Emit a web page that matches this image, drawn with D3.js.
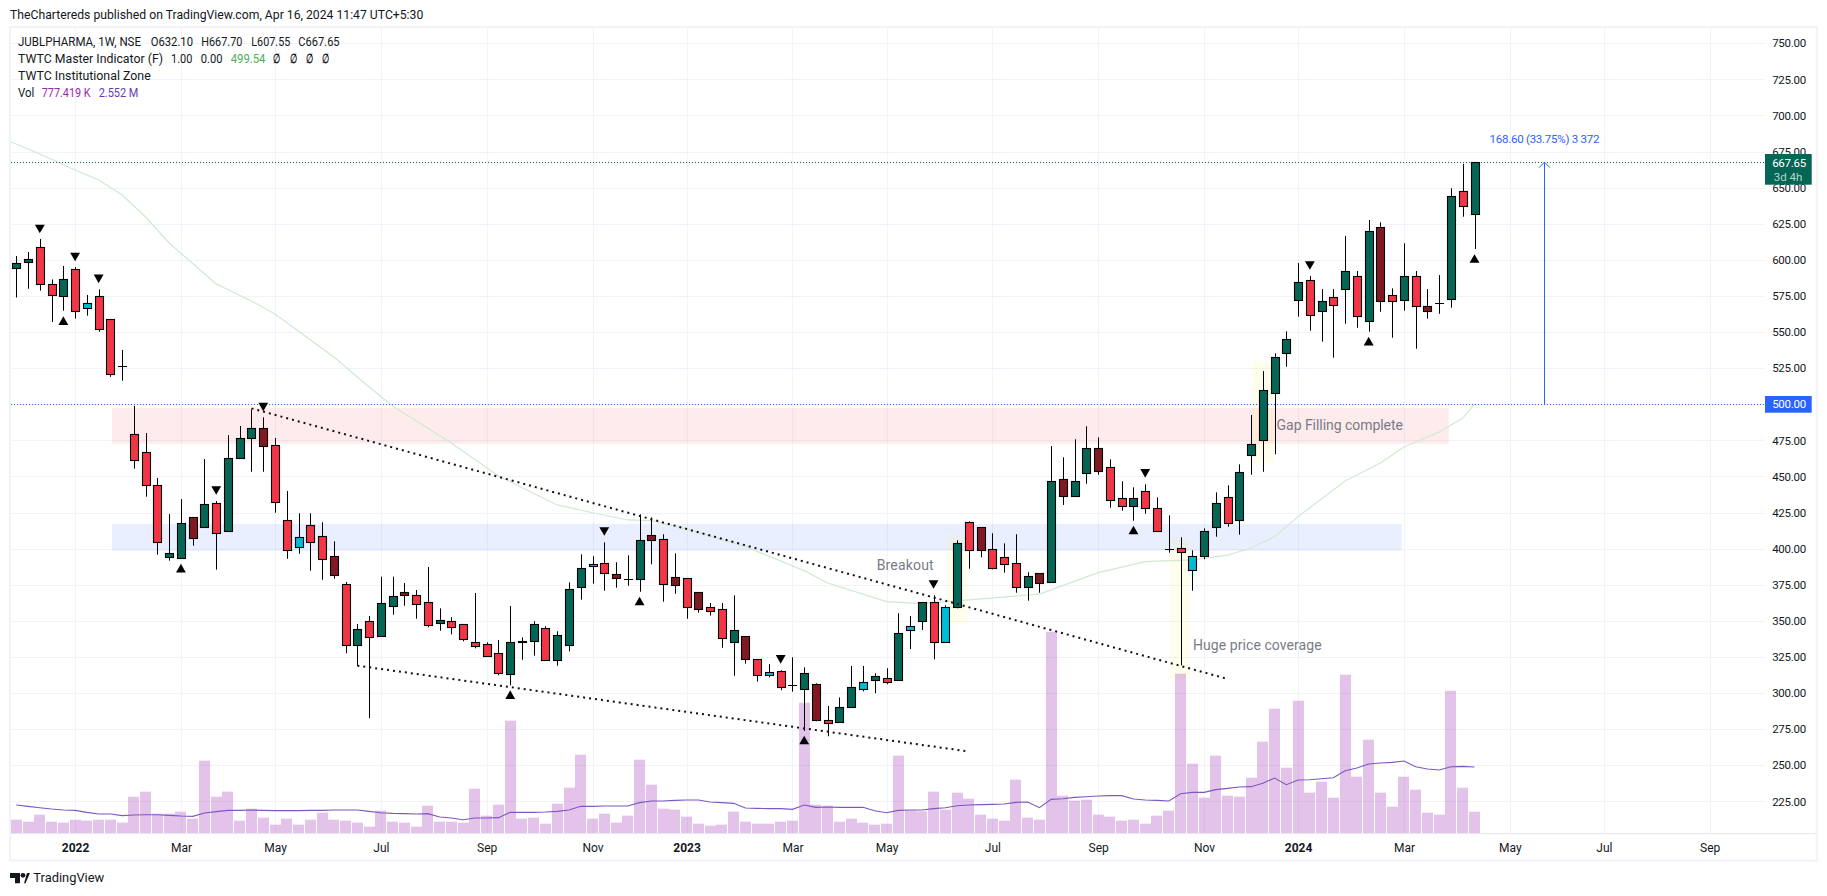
<!DOCTYPE html>
<html>
<head>
<meta charset="utf-8">
<script src="https://cdnjs.cloudflare.com/ajax/libs/d3/7.8.5/d3.min.js"></script>
<style>
body { margin: 0; background: #fff; }
text { font-family: Roboto, sans-serif; fill: #131722; }
</style>
</head>
<body>
<div id="chart"></div>
<script>
// weekly candles
var kinds = ["g","g","r","r","g","r","b","r","r","x","r","r","r","g","g","d","g","r","g","g","g","d","r","r","b","r","r","d","r","g","r","g","g","d","r","r","g","r","r","r","r","r","g","g","g","r","g","g","g","b","r","d","x","g","d","r","d","r","d","r","r","g","d","r","b","r","x","g","d","r","g","g","b","g","r","g","b","g","r","b","g","r","d","r","r","r","g","d","g","d","g","g","d","r","r","g","r","r","x","r","b","g","g","r","g","g","g","g","g","g","r","g","r","g","r","g","d","r","g","r","d","x","g","r","g"];
var opens = [594.5,598.8,608.7,583,574.8,593.5,566.5,575,558.9,526.3,479.2,466.8,443.9,394.5,393.8,421.7,415.2,431.4,412,462.6,476.5,483.4,471.6,419.7,401,416.2,408.6,394.7,375.4,333.1,349.7,339.4,360.1,369.8,367.7,362.9,348.6,349.7,347.6,335.2,333.8,327.6,313,335.2,335.9,344.9,322.7,333.1,373.3,387.8,389.9,382.3,378.8,378.8,409.3,406.5,380.2,379.5,369.8,359.4,358,335.2,339.3,323.4,312.3,315.1,305.4,302.7,306.1,281.2,279.8,290.2,302.6,308.8,310.2,308.8,343.5,349.7,362.9,335.2,359.4,418.3,414.8,399.6,394,389.9,373.3,383,376.8,448,436.3,452.2,469.5,456.4,434.9,429.4,439.7,428,400,400.3,385,394.7,414.8,435.6,419.7,464.7,475.1,507.6,535.3,572,585.9,564.4,574.1,579.6,588.6,557.5,622.6,575.5,572,588.6,567.9,569.9,572.7,647.5,632.1];
var highs = [602.7,605.5,614.5,586.5,595.8,595,575.7,579.6,558.9,537.6,499,480.1,449,424,434.4,421.7,462.1,433,478.7,485,496.5,491,476.7,440,424.5,424.5,418.3,405.1,376.9,347.9,353.4,380.6,380.6,376.2,371.4,387.3,358.7,352.5,347.6,369.3,335.2,336.8,360.3,338.6,349.7,346.3,342.8,376.7,396.1,394.8,404.4,390.6,395.4,423.8,421.7,410,396.8,379.5,369.8,362.4,362.4,367.7,339.3,323.4,320,315.8,324.8,317.9,306.8,291.1,297,318.8,318.8,313.7,317.2,355.3,353.4,362.9,367.7,360.8,405.8,419,414.8,410.7,403.7,410,383.7,383,471.1,463.3,475.8,484.8,477.1,461.9,446.7,442.5,444.6,435.6,423.1,407.9,398.9,414.1,439,443.9,458.4,492.6,523,535.3,550.5,597.8,588.9,579.8,579.8,616.6,592.3,627.6,626,580.3,611.5,592.3,579.8,589.5,649.6,666.5,667.7];
var lows = [574,580,578.7,557,564.8,559.3,561.4,550.3,519,516.3,455.4,436,395.9,391.7,393,402.1,415.2,385.5,412,462.6,453.3,453.3,424.9,393,396.5,384.8,378.5,379.2,327.6,319,282.6,339.4,354.3,360.5,351.5,345.6,343.2,340.7,335.9,331,325.5,312.3,305.4,323.1,325.9,322.7,319,328.9,364.7,375.8,370.9,373,374.4,370.2,389.2,363.3,368.8,351.5,355.7,353.7,331.4,312,320.4,308,310.9,302,301,273.8,280.5,270.1,279.8,290.2,301.2,299.9,306.1,308.8,330.5,343.7,323.4,335.2,358.7,386.1,394,385.7,383.4,369.5,364,369.5,376.8,430.3,436.3,445,451.2,428.4,426.3,419.4,424.2,412,397.2,319.2,370.9,392.7,408.3,415.2,409.7,451.2,453.3,465.4,526,560.7,551,543.4,532.3,555.8,553,550.3,564.1,546.1,564.8,538.5,559.3,562.7,566.9,629.9,607.55];
var closes = [598,600.4,583,575.5,586.5,564.4,570.4,552,520.8,526.3,461.2,443.9,404.4,396.8,417.6,407.2,430.8,410.7,462.6,476.5,483.4,471.3,432.1,398.9,407.9,404.4,392.7,381.6,333,344.2,338.6,362.2,367,367.7,361.5,347,350.7,345.6,337.3,332.4,325.5,313.7,335.2,335.9,347.6,322.7,340,371.9,386.4,389.2,383,379.5,378.8,405.8,405.8,375.3,374.7,359.4,358,356.7,337.9,343.5,323.4,312.3,314.4,304,305.4,313.7,281.2,279.1,290.2,304,307.5,311.6,307.5,341.4,346.3,362.9,335.2,359.4,403.7,398.9,398.9,386.4,389.2,373.3,380.9,376.1,446.7,436.3,446.7,469.5,453.6,433.5,429.4,434.9,428,412,400,397.5,394.7,412,431.4,417.6,452.9,472.3,509.7,532.5,545,584.5,561.6,571.3,568.6,592.1,560.9,619.8,571.3,571.3,588.6,567.9,564.4,569.9,644,637.1,667.65];

// volume in thousands
var volumes = [486,413,668,413,377,486,450,486,486,377,1324,1507,705,705,778,522,2637,1324,1507,450,887,559,304,522,304,486,741,486,450,377,231,814,413,377,231,996,413,413,377,1616,632,1033,4095,522,559,340,1069,1652,2855,522,705,377,632,2673,1762,887,851,595,340,267,304,778,413,340,340,413,450,4751,1033,996,413,522,377,304,340,2819,826,790,1507,851,1470,1251,668,522,450,1944,559,486,7339,1361,1179,1215,668,595,450,486,340,632,814,5808,2527,1288,2819,1361,1324,2017,3329,4532,2381,4824,1470,1871,1288,5771,2053,3402,1470,960,2053,1580,741,668,5188,1652,777];
var volumeMa = [1021,972,923,875,838,826,753,693,693,632,656,668,668,644,620,608,729,778,826,826,838,826,814,814,814,826,826,838,838,838,790,741,717,705,693,705,583,547,486,547,547,559,753,753,753,765,790,838,972,972,984,984,984,1106,1166,1166,1191,1203,1203,1130,1106,1081,911,899,887,887,863,1021,936,948,936,936,936,814,741,826,838,838,887,923,996,1021,1033,1045,1057,1118,1130,923,1227,1251,1300,1324,1349,1361,1361,1239,1203,1191,1166,1434,1482,1482,1580,1628,1677,1689,1810,2005,1762,1932,1944,1980,2017,2272,2369,2515,2552,2576,2624,2418,2333,2296,2418,2430,2406];

// long moving average, vertices of the line
var longMaBars = [-0.5,2,5,7,9,11,13,17,20,22,27,30,32,37,41,46,49,52,54,57,62,67,69,74,77,81,87,92,96,100,103,105,107,109,113,116,118,121,123,124];
var longMaValues = [681.9,673.3,662.3,655.3,644.9,629.7,611.7,583.3,571.5,562.5,532.8,512,498.8,473.2,450.4,430.3,424.9,419.9,419.4,413.6,401.4,384.8,376.2,363.3,361.9,364.5,368.6,383.4,391,392.2,395.6,400.5,408.3,422.2,446.9,459.4,470.4,480.8,490.5,500.2];

// pivots from the indicator
var downMarkBars = [2,5,7,17,21,50,65,78,96,110];
var downMarkPrices = [621.4,602,586.8,440.3,498.1,411.9,323.3,375.2,452.1,596.1];
var upMarkBars = [4,14,42,53,67,95,115,124];
var upMarkPrices = [558,386.6,299,363.8,267.5,413,543.8,601];

var priceTicks = [750,725,700,675,650,625,600,575,550,525,500,475,450,425,400,375,350,325,300,275,250,225];
var timeTickBars = [5,14,22,31,40,49,57,66,74,83,92,101,109,118,127,135,144];
var timeTickLabels = ["2022","Mar","May","Jul","Sep","Nov","2023","Mar","May","Jul","Sep","Nov","2024","Mar","May","Jul","Sep"];

var lastClose = 667.65, levelPrice = 500, measureBar = 129.9;
var zones = [
    {from: 8.13, to: 121.8, top: 497.4, bottom: 472.7, color: "#f23645"},
    {from: 8.13, to: 117.8, top: 417.1, bottom: 398.6, color: "#2962ff"}
];
var highlights = [
    {from: 79.2, to: 80.9, top: 409.2, bottom: 347.8},
    {from: 105.1, to: 106.9, top: 530, bottom: 459.4},
    {from: 98.1, to: 99.8, top: 406.8, bottom: 309.9}
];
var trendLines = [
    {x1: 20, y1: 497.2, x2: 103, y2: 309.8},
    {x1: 29, y1: 319, x2: 80.7, y2: 259.9}
];
var notes = [
    {bar: 73.16, price: 388, text: "Breakout", w: 57},
    {bar: 107.17, price: 485, text: "Gap Filling complete", w: 126.4},
    {bar: 100.06, price: 332.5, text: "Huge price coverage", w: 128.7}
];

var width = 1827, height = 896;
var left = 11, right = 1765, top_ = 28, bottom = 833;

var svg = d3.select("#chart").append("svg")
    .attr("width", width)
    .attr("height", height)
    .style("display", "block");

var x = d3.scaleLinear().domain([0, 124]).range([16.3, 1474.5]);
var y = d3.scaleLinear().domain([500, 750]).range([404.3, 43.3]);
var v = d3.scaleLinear().domain([0, 7339]).range([bottom, 631.7]);

svg.append("defs").append("clipPath").attr("id", "pane").append("rect")
    .attr("x", left).attr("y", top_).attr("width", right - left).attr("height", bottom - top_);

// frame
svg.append("rect").attr("x", 10).attr("y", 27).attr("width", 1806.7).attr("height", 833.5)
    .attr("fill", "none").attr("stroke", "#f0f3fa").attr("stroke-width", 2);
svg.append("line").attr("x1", left).attr("x2", 1816).attr("y1", bottom + 0.5).attr("y2", bottom + 0.5)
    .attr("stroke", "#e4e6ee");

// axes
var yAxis = d3.axisRight(y).tickValues(priceTicks).tickFormat(d3.format(".2f")).tickSize(0).tickPadding(0);
var yG = svg.append("g").attr("transform", "translate(1806,0)").call(yAxis);
yG.select(".domain").remove();
yG.selectAll("text").attr("text-anchor", "end").style("font-size", "11.5px").style("font-family", "Roboto").style("letter-spacing", "-0.25px");

var xAxis = d3.axisBottom(x).tickValues(timeTickBars).tickFormat(function(d, i) { return timeTickLabels[i]; }).tickSize(0).tickPadding(10);
var xG = svg.append("g").attr("transform", "translate(0," + bottom + ")").call(xAxis);
xG.select(".domain").remove();
xG.selectAll("text").style("font-size", "12px").style("font-family", "Roboto")
    .style("font-weight", function(d, i) { return /^20/.test(timeTickLabels[i]) ? "700" : "400"; });

var pane = svg.append("g").attr("clip-path", "url(#pane)");

pane.selectAll(".hgrid").data(priceTicks).join("line").attr("class", "hgrid")
    .attr("x1", left).attr("x2", right)
    .attr("y1", function(d) { return Math.round(y(d)) + 0.5; })
    .attr("y2", function(d) { return Math.round(y(d)) + 0.5; })
    .attr("stroke", "#f0f3fa");
pane.selectAll(".vgrid").data(timeTickBars).join("line").attr("class", "vgrid")
    .attr("y1", top_).attr("y2", bottom)
    .attr("x1", function(d) { return Math.round(x(d)) + 0.5; })
    .attr("x2", function(d) { return Math.round(x(d)) + 0.5; })
    .attr("stroke", "#f0f3fa");

// zones
pane.selectAll(".zone").data(zones).join("rect").attr("class", "zone")
    .attr("x", function(d) { return x(d.from); })
    .attr("width", function(d) { return x(d.to) - x(d.from); })
    .attr("y", function(d) { return y(d.top); })
    .attr("height", function(d) { return y(d.bottom) - y(d.top); })
    .attr("fill", function(d) { return d.color; })
    .attr("fill-opacity", 0.1);

pane.selectAll(".hl").data(highlights).join("rect").attr("class", "hl")
    .attr("x", function(d) { return x(d.from); })
    .attr("width", function(d) { return x(d.to) - x(d.from); })
    .attr("y", function(d) { return y(d.top); })
    .attr("height", function(d) { return y(d.bottom) - y(d.top); })
    .attr("fill", "#ffeb3b")
    .attr("fill-opacity", 0.1);

// volume
pane.selectAll(".vol").data(volumes).join("rect").attr("class", "vol")
    .attr("x", function(d, i) { return Math.round(x(i) - 5.5); })
    .attr("width", 11)
    .attr("y", function(d) { return v(d); })
    .attr("height", function(d) { return bottom - v(d); })
    .attr("fill", "#9c27b0")
    .attr("fill-opacity", 0.28);

var volLine = d3.line().x(function(d, i) { return x(i); }).y(function(d) { return v(d); });
pane.append("path").datum(volumeMa).attr("d", volLine)
    .attr("fill", "none").attr("stroke", "#7e57c2").attr("stroke-width", 1.1);

// long MA
var maLine = d3.line().x(function(d) { return x(d); }).y(function(d, i) { return y(longMaValues[i]); });
pane.append("path").datum(longMaBars).attr("d", maLine)
    .attr("fill", "none").attr("stroke", "#d0e9d1").attr("stroke-width", 1.2);

// levels
function level(price, color) {
    pane.append("line").attr("x1", left).attr("x2", right)
        .attr("y1", Math.round(y(price)) + 0.5).attr("y2", Math.round(y(price)) + 0.5)
        .attr("stroke", color).attr("stroke-dasharray", "1 2");
}
level(levelPrice, "#2962ff");
level(lastClose, "#056656");

// measure arrow
var arrowX = Math.round(x(measureBar)) + 0.5;
pane.append("line").attr("x1", arrowX).attr("x2", arrowX)
    .attr("y1", y(levelPrice)).attr("y2", y(lastClose))
    .attr("stroke", "#2962ff").attr("stroke-width", 1);
pane.append("path")
    .attr("d", "M" + (arrowX - 5.5) + "," + (y(lastClose) + 5.5) + "L" + arrowX + "," + y(lastClose) + "L" + (arrowX + 5.5) + "," + (y(lastClose) + 5.5))
    .attr("fill", "none").attr("stroke", "#2962ff");
svg.append("text").attr("x", arrowX).attr("y", y(lastClose) - 19.5)
    .attr("text-anchor", "middle").style("font-size", "11.5px").style("fill", "#2962ff")
    .attr("textLength", 110)
    .text("168.60 (33.75%) 3 372");

// candles
var colorOf = {g: "#056656", r: "#f23645", d: "#801922", b: "#00bcd4"};
var bars = kinds.map(function(k, i) {
    return {kind: k, i: i, open: opens[i], high: highs[i], low: lows[i], close: closes[i]};
});
var candle = pane.selectAll(".candle").data(bars).join("g").attr("class", "candle")
    .attr("transform", function(d) { return "translate(" + (Math.round(x(d.i)) + 0.5) + ",0)"; });
candle.append("line")
    .attr("y1", function(d) { return y(d.high); })
    .attr("y2", function(d) { return y(d.low); })
    .attr("stroke", "#000").attr("stroke-width", 1);
candle.filter(function(d) { return d.kind != "x"; }).append("rect")
    .attr("x", -4).attr("width", 8)
    .attr("y", function(d) { return Math.round(y(Math.max(d.open, d.close))) + 0.5; })
    .attr("height", function(d) { return Math.max(Math.round(y(Math.min(d.open, d.close))) - Math.round(y(Math.max(d.open, d.close))), 1); })
    .attr("fill", function(d) { return colorOf[d.kind]; })
    .attr("stroke", "#000").attr("stroke-width", 1.1);
candle.filter(function(d) { return d.kind == "x"; }).append("line")
    .attr("x1", -4.5).attr("x2", 4.5)
    .attr("y1", function(d) { return Math.round(y(d.close)) + 0.5; })
    .attr("y2", function(d) { return Math.round(y(d.close)) + 0.5; })
    .attr("stroke", "#000");

// pivots
var tri = d3.symbol().type(d3.symbolTriangle).size(42);
pane.selectAll(".up").data(upMarkBars).join("path").attr("class", "up")
    .attr("d", tri)
    .attr("transform", function(d, i) { return "translate(" + x(d) + "," + (y(upMarkPrices[i]) + 1.5) + ")"; });
pane.selectAll(".down").data(downMarkBars).join("path").attr("class", "down")
    .attr("d", tri)
    .attr("transform", function(d, i) { return "translate(" + x(d) + "," + (y(downMarkPrices[i]) - 1.5) + ") rotate(180)"; });

// trend lines
pane.selectAll(".trend").data(trendLines).join("line").attr("class", "trend")
    .attr("x1", function(d) { return x(d.x1); })
    .attr("y1", function(d) { return y(d.y1); })
    .attr("x2", function(d) { return x(d.x2); })
    .attr("y2", function(d) { return y(d.y2); })
    .attr("stroke", "#111").attr("stroke-width", 2)
    .attr("stroke-dasharray", "2 4");

// notes
pane.selectAll(".note").data(notes).join("text").attr("class", "note")
    .attr("x", function(d) { return x(d.bar); })
    .attr("y", function(d) { return y(d.price); })
    .attr("dominant-baseline", "middle")
    .attr("textLength", function(d) { return d.w; })
    .style("font-size", "14px").style("fill", "#787b86")
    .text(function(d) { return d.text; });

// price labels
svg.append("rect").attr("x", 1765).attr("width", 46.7).attr("y", y(levelPrice) - 8.3).attr("height", 16.7).attr("fill", "#2962ff");
svg.append("text").attr("x", 1806).attr("y", y(levelPrice) + 4).attr("text-anchor", "end")
    .style("font-size", "11.5px").style("letter-spacing", "-0.25px").style("fill", "#fff").text(d3.format(".2f")(levelPrice));
svg.append("rect").attr("x", 1765).attr("width", 46.7).attr("y", 154).attr("height", 30.7).attr("fill", "#056656");
svg.append("text").attr("x", 1806).attr("y", y(lastClose) + 4.4).attr("text-anchor", "end")
    .style("font-size", "11.5px").style("letter-spacing", "-0.25px").style("fill", "#fff").text(d3.format(".2f")(lastClose));
svg.append("text").attr("x", 1802.3).attr("y", y(lastClose) + 18.5).attr("text-anchor", "end")
    .style("font-size", "11.5px").style("fill", "#b4d4cc").text("3d 4h");

// header and legend
function label(px, py, str, w, color, size, weight) {
    svg.append("text").attr("x", px).attr("y", py).attr("dominant-baseline", "middle")
        .attr("textLength", w).attr("lengthAdjust", "spacingAndGlyphs")
        .style("font-size", (size || 12.5) + "px").style("font-weight", weight || 400)
        .style("fill", color || "#131722").text(str);
}
label(10, 16, "TheChartereds published on TradingView.com, Apr 16, 2024 11:47 UTC+5:30", 413.3, "#131722", 13);
label(18, 43, "JUBLPHARMA, 1W, NSE", 123);
label(150.7, 43, "O632.10", 42.3);
label(201.3, 43, "H667.70", 41);
label(251.3, 43, "L607.55", 39);
label(298.3, 43, "C667.65", 41.3);
label(18, 60, "TWTC Master Indicator (F)", 145);
label(171, 60, "1.00", 21.3);
label(200.7, 60, "0.00", 21.7);
label(230.7, 60, "499.54", 34.7, "#4caf50");
[273, 289.7, 305.7, 321.7].forEach(function(px) { label(px, 60, "∅", 7, "#131722", 12.5, 700); });
label(18, 77, "TWTC Institutional Zone", 132.7);
label(18, 94, "Vol", 16.3);
label(41.7, 94, "777.419 K", 49, "#9c27b0");
label(98.7, 94, "2.552 M", 39.7, "#673ab7");

// footer logo
var logo = svg.append("g").attr("fill", "#131722");
logo.append("path").attr("d", "M10,873H20V883.3H15V878H10Z");
logo.append("circle").attr("cx", 23).attr("cy", 875.3).attr("r", 2.4);
logo.append("path").attr("d", "M24,883.3L27,873H30L25.5,883.3Z");
label(33.3, 878.5, "TradingView", 71, "#131722", 13.5);
</script>
</body>
</html>
